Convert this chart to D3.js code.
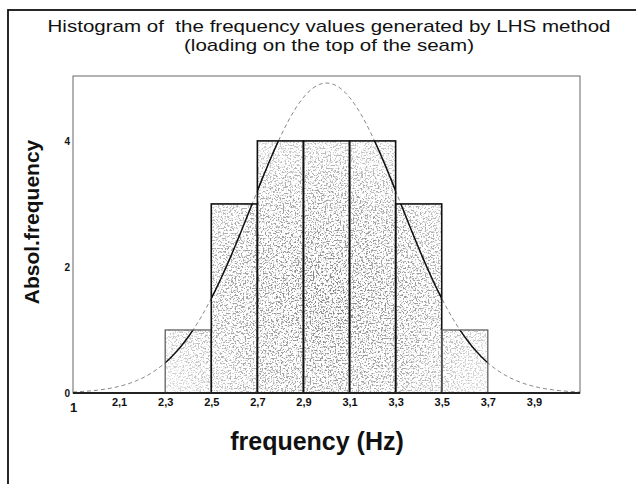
<!DOCTYPE html>
<html>
<head>
<meta charset="utf-8">
<script src="https://cdn.jsdelivr.net/npm/d3@7"></script>
<style>
  body { margin: 0; background: #fff; }
  svg { display: block; font-family: "Liberation Sans", Arial, sans-serif; }
</style>
</head>
<body>
<svg id="chart" width="636" height="484"></svg>
<script>
// histogram bins (Hz) and absolute counts
const binStart = [2.3, 2.5, 2.7, 2.9, 3.1, 3.3, 3.5];
const binEnd   = [2.5, 2.7, 2.9, 3.1, 3.3, 3.5, 3.7];
const counts   = [1, 3, 4, 4, 4, 3, 1];

const xTicks      = [1.9, 2.1, 2.3, 2.5, 2.7, 2.9, 3.1, 3.3, 3.5, 3.7, 3.9];
const xTickLabels = ["1", "2,1", "2,3", "2,5", "2,7", "2,9", "3,1", "3,3", "3,5", "3,7", "3,9"];
const yTicks      = [0, 2, 4];

const titleLines = ["Histogram of  the frequency values generated by LHS method",
                    "(loading on the top of the seam)"];
const titleWidths = [563, 290];

const svg = d3.select("#chart");
const m = { left: 73, right: 580, top: 76, bottom: 393 };

const x = d3.scaleLinear().domain([1.9, 4.1]).range([m.left, m.right]);
const y = d3.scaleLinear().domain([0, 5.03]).range([m.bottom, m.top]);

const bins = binStart.map((s, i) => ({ x0: s, x1: binEnd[i], n: counts[i] }));

// outer frame
svg.append("rect")
    .attr("x", 8).attr("y", 10)
    .attr("width", 640).attr("height", 490)
    .attr("fill", "none")
    .attr("stroke", "#111")
    .attr("stroke-width", 1.8);

// title (scan is a bit wide, so stretch to the measured widths)
svg.append("g").selectAll("text")
  .data(titleLines)
  .enter().append("text")
    .attr("x", 329)
    .attr("y", (d, i) => 32 + i * 19)
    .attr("text-anchor", "middle")
    .attr("font-size", 17)
    .attr("textLength", (d, i) => titleWidths[i])
    .attr("lengthAdjust", "spacingAndGlyphs")
    .attr("fill", "#111")
    .style("white-space", "pre")
    .text(d => d);

const defs = svg.append("defs");

const filter = defs.append("filter")
    .attr("id", "speckle")
    .attr("x", 0).attr("y", 0).attr("width", 1).attr("height", 1);
filter.append("feTurbulence")
    .attr("type", "fractalNoise")
    .attr("baseFrequency", 0.6)
    .attr("numOctaves", 2)
    .attr("seed", 11);
filter.append("feColorMatrix")
    .attr("type", "matrix")
    .attr("values", "0 0 0 0 0.2  0 0 0 0 0.2  0 0 0 0 0.2  -6 0 0 0 3.0");

const grad = defs.append("radialGradient")
    .attr("id", "dens")
    .attr("gradientUnits", "userSpaceOnUse")
    .attr("cx", x(3.0)).attr("cy", y(1.6)).attr("r", 200);
grad.append("stop").attr("offset", 0).attr("stop-color", "#fff").attr("stop-opacity", 0.95);
grad.append("stop").attr("offset", 0.5).attr("stop-color", "#fff").attr("stop-opacity", 0.7);
grad.append("stop").attr("offset", 1).attr("stop-color", "#fff").attr("stop-opacity", 0.2);

const mask = defs.append("mask").attr("id", "densMask");
mask.append("rect")
    .attr("x", m.left).attr("y", m.top)
    .attr("width", m.right - m.left).attr("height", m.bottom - m.top)
    .attr("fill", "url(#dens)");

const clip = defs.append("clipPath").attr("id", "barClip");
clip.selectAll("rect")
  .data(bins)
  .enter().append("rect")
    .attr("x", d => x(d.x0))
    .attr("y", d => y(d.n))
    .attr("width", d => x(d.x1) - x(d.x0))
    .attr("height", d => y(0) - y(d.n));

// plot box
svg.append("rect")
    .attr("x", m.left).attr("y", m.top)
    .attr("width", m.right - m.left).attr("height", m.bottom - m.top)
    .attr("fill", "none")
    .attr("stroke", "#666")
    .attr("stroke-width", 1);

// speckled bar fill
svg.append("g")
    .attr("clip-path", "url(#barClip)")
  .append("g")
    .attr("mask", "url(#densMask)")
  .append("rect")
    .attr("x", m.left).attr("y", m.top)
    .attr("width", m.right - m.left).attr("height", m.bottom - m.top)
    .attr("filter", "url(#speckle)");

// fitted normal curve from the binned data
const total = d3.sum(counts);
const mids = bins.map(d => (d.x0 + d.x1) / 2);
const mean = d3.sum(mids, (v, i) => v * counts[i]) / total;
const sd = Math.sqrt(d3.sum(mids, (v, i) => counts[i] * (v - mean) ** 2) / (total - 1));
const w = binEnd[0] - binStart[0];
const curveX = d3.range(1.9, 4.1001, 0.01);
const curvePts = curveX.map(v => [v, total * w * Math.exp(-0.5 * ((v - mean) / sd) ** 2) / (sd * Math.sqrt(2 * Math.PI))]);

const line = d3.line().x(d => x(d[0])).y(d => y(d[1]));

svg.append("path")
    .datum(curvePts)
    .attr("d", line)
    .attr("fill", "none")
    .attr("stroke", "#666")
    .attr("stroke-width", 0.8)
    .attr("stroke-dasharray", "4,3");

svg.append("path")
    .datum(curvePts)
    .attr("clip-path", "url(#barClip)")
    .attr("d", line)
    .attr("fill", "none")
    .attr("stroke", "#111")
    .attr("stroke-width", 1.5);

// bar outlines
svg.append("g").selectAll("rect")
  .data(bins)
  .enter().append("rect")
    .attr("x", d => x(d.x0))
    .attr("y", d => y(d.n))
    .attr("width", d => x(d.x1) - x(d.x0))
    .attr("height", d => y(0) - y(d.n))
    .attr("fill", "none")
    .attr("stroke", d => d.n > 1 ? "#111" : "#555")
    .attr("stroke-width", d => d.n > 1 ? 1.6 : 1.2);

// bottom axis line
svg.append("line")
    .attr("x1", m.left).attr("x2", m.right)
    .attr("y1", m.bottom).attr("y2", m.bottom)
    .attr("stroke", "#222")
    .attr("stroke-width", 2);

// x axis
const xAxis = svg.append("g")
    .attr("transform", `translate(0,${m.bottom})`)
    .call(d3.axisBottom(x)
      .tickValues(xTicks)
      .tickSize(0)
      .tickPadding(5)
      .tickFormat((d, i) => xTickLabels[i]));
xAxis.select(".domain").remove();
xAxis.selectAll("text")
    .attr("font-family", "Liberation Sans, Arial, sans-serif")
    .attr("font-weight", "bold")
    .attr("font-size", (d, i) => i === 0 ? 13 : 11)
    .attr("dy", (d, i) => i === 0 ? "1.05em" : "0.75em")
    .attr("fill", "#111");

// y axis
const yAxis = svg.append("g")
    .attr("transform", `translate(${m.left},0)`)
    .call(d3.axisLeft(y)
      .tickValues(yTicks)
      .tickSize(0)
      .tickPadding(3)
      .tickFormat(d3.format("d")));
yAxis.select(".domain").remove();
yAxis.selectAll("text")
    .attr("font-family", "Liberation Sans, Arial, sans-serif")
    .attr("font-weight", "bold")
    .attr("font-size", 10)
    .attr("fill", "#111");

// axis titles
svg.append("text")
    .attr("x", 317)
    .attr("y", 450)
    .attr("text-anchor", "middle")
    .attr("font-weight", "bold")
    .attr("font-size", 25)
    .attr("fill", "#111")
    .text("frequency (Hz)");

svg.append("text")
    .attr("transform", "translate(39,222) rotate(-90)")
    .attr("text-anchor", "middle")
    .attr("font-weight", "bold")
    .attr("font-size", 21)
    .attr("fill", "#111")
    .text("Absol.frequency");
</script>
</body>
</html>
